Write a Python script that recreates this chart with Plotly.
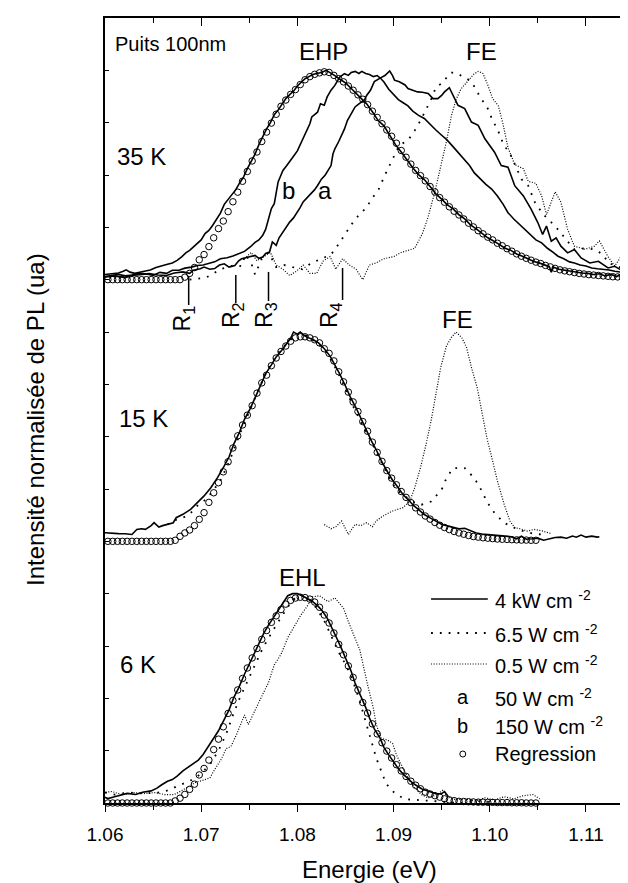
import plotly.graph_objects as go

# ---------------- data (energies in eV, intensities normalised per panel) ----------------
PANEL_OFFSET_35K = 2.5
PANEL_OFFSET_15K = 1.25
PANEL_OFFSET_6K = 0.0

# Regression (open circles): regular energy grid, start + step
FIT_E0 = 1.0598
FIT_DE = 0.0005
FIT_35K = [0, 0, 0, 0, 0, 0, 0, 0, 0, 0, 0, 0, 0, 0, 0, 0, 0,
           0.012, 0.03, 0.058, 0.095, 0.12, 0.158, 0.2, 0.244, 0.28, 0.325, 0.372, 0.418, 0.47,
           0.517, 0.567, 0.61, 0.66, 0.705, 0.748, 0.79, 0.828, 0.858, 0.885, 0.908, 0.932,
           0.955, 0.97, 0.981, 0.988, 0.993, 0.99, 0.976, 0.96, 0.945, 0.925, 0.905, 0.883,
           0.862, 0.836, 0.805, 0.775, 0.745, 0.715, 0.685, 0.652, 0.617, 0.585, 0.552, 0.522,
           0.497, 0.472, 0.445, 0.419, 0.392, 0.37, 0.348, 0.327, 0.309, 0.29, 0.27, 0.252,
           0.234, 0.219, 0.203, 0.19, 0.174, 0.162, 0.148, 0.136, 0.123, 0.112, 0.102, 0.093,
           0.084, 0.077, 0.068, 0.061, 0.054, 0.047, 0.042, 0.038, 0.034, 0.03, 0.027, 0.024,
           0.022, 0.02, 0.018, 0.016, 0.014, 0.013, 0.012, 0.011, 0.01]
FIT_15K = [0, 0, 0, 0, 0, 0, 0, 0, 0, 0, 0, 0, 0, 0, 0,
           0.005, 0.024, 0.04, 0.054, 0.075, 0.105, 0.137, 0.186, 0.232, 0.28, 0.332, 0.38,
           0.446, 0.504, 0.556, 0.603, 0.648, 0.708, 0.757, 0.794, 0.839, 0.876, 0.907, 0.933,
           0.956, 0.972, 0.977, 0.977, 0.972, 0.963, 0.948, 0.92, 0.898, 0.862, 0.81, 0.762,
           0.713, 0.666, 0.62, 0.572, 0.526, 0.474, 0.425, 0.382, 0.338, 0.302, 0.27, 0.238,
           0.21, 0.185, 0.16, 0.14, 0.121, 0.106, 0.09, 0.077, 0.066, 0.056, 0.047, 0.04,
           0.034, 0.028, 0.023, 0.02, 0.017, 0.015, 0.013, 0.011, 0.01, 0.009, 0.008, 0.007,
           0.006, 0.006, 0.005, 0.005]
FIT_6K = [0, 0, 0, 0, 0, 0, 0, 0, 0, 0, 0, 0, 0, 0, 0,
          0.01, 0.023, 0.041, 0.065, 0.09, 0.134, 0.165, 0.205, 0.255, 0.305, 0.364, 0.428,
          0.49, 0.54, 0.595, 0.645, 0.693, 0.738, 0.782, 0.824, 0.863, 0.894, 0.924, 0.95,
          0.968, 0.979, 0.983, 0.981, 0.974, 0.96, 0.935, 0.898, 0.86, 0.812, 0.758, 0.708,
          0.655, 0.6, 0.54, 0.48, 0.43, 0.378, 0.33, 0.288, 0.248, 0.215, 0.183, 0.153, 0.127,
          0.104, 0.085, 0.068, 0.052, 0.043, 0.035, 0.028, 0.02, 0.015, 0.011, 0.008, 0.007,
          0.006, 0.005, 0.004, 0.004, 0.003, 0.003, 0.002, 0.002, 0.002, 0.001, 0.001, 0.001,
          0, 0, 0]

# 35 K spectra (E, I)
S35_4KW = [(1.0600, 0.025), (1.0607, 0.03), (1.0614, 0.032), (1.0619, 0.04), (1.0622, 0.047),
           (1.0626, 0.036), (1.0631, 0.03), (1.0636, 0.035), (1.0642, 0.04), (1.0647, 0.046),
           (1.0653, 0.058), (1.0658, 0.066), (1.0664, 0.072), (1.0670, 0.08), (1.0675, 0.092),
           (1.0680, 0.11), (1.0684, 0.128), (1.0688, 0.14), (1.0692, 0.156), (1.0696, 0.17),
           (1.0700, 0.19), (1.0704, 0.22), (1.0708, 0.235), (1.0712, 0.26), (1.0716, 0.29),
           (1.0720, 0.318), (1.0724, 0.36), (1.0728, 0.382), (1.0732, 0.405), (1.0736, 0.43),
           (1.0740, 0.462), (1.0744, 0.49), (1.0748, 0.53), (1.0752, 0.565), (1.0756, 0.6),
           (1.0760, 0.645), (1.0764, 0.685), (1.0768, 0.72), (1.0772, 0.75), (1.0776, 0.788),
           (1.0780, 0.81), (1.0784, 0.835), (1.0788, 0.865), (1.0792, 0.884), (1.0796, 0.9),
           (1.0800, 0.925), (1.0804, 0.945), (1.0808, 0.96), (1.0812, 0.97), (1.0816, 0.98),
           (1.0820, 0.985), (1.0825, 0.99), (1.0830, 1.0), (1.0834, 0.99), (1.0839, 0.975),
           (1.0845, 0.955), (1.0850, 0.94), (1.0855, 0.918), (1.0860, 0.895), (1.0866, 0.868),
           (1.0872, 0.84), (1.0878, 0.802), (1.0884, 0.76), (1.0890, 0.735), (1.0896, 0.69),
           (1.0902, 0.645), (1.0908, 0.61), (1.0914, 0.57), (1.0920, 0.535), (1.0926, 0.502),
           (1.0932, 0.478), (1.0938, 0.445), (1.0944, 0.41), (1.0950, 0.385), (1.0956, 0.357),
           (1.0962, 0.338), (1.0968, 0.31), (1.0974, 0.29), (1.0980, 0.262), (1.0986, 0.243),
           (1.0992, 0.222), (1.0998, 0.2), (1.1004, 0.185), (1.1010, 0.168), (1.1016, 0.15),
           (1.1022, 0.14), (1.1028, 0.123), (1.1034, 0.112), (1.1040, 0.1), (1.1046, 0.087),
           (1.1052, 0.079), (1.1058, 0.068), (1.1062, 0.062), (1.1064, 0.035), (1.1066, 0.06),
           (1.1072, 0.05), (1.1078, 0.045), (1.1084, 0.04), (1.1090, 0.035), (1.1096, 0.032),
           (1.1102, 0.03), (1.1108, 0.025), (1.1114, 0.028), (1.1120, 0.018), (1.1126, 0.025),
           (1.1132, 0.015), (1.1138, 0.03), (1.1144, 0.012), (1.1150, 0.015)]
S35_150W = [(1.0600, 0.015), (1.0608, 0.02), (1.0614, 0.025), (1.0621, 0.018), (1.0628, 0.022),
            (1.0635, 0.03), (1.0642, 0.028), (1.0650, 0.02), (1.0657, 0.035), (1.0664, 0.03),
            (1.0670, 0.045), (1.0677, 0.045), (1.0683, 0.055), (1.0690, 0.06), (1.0696, 0.068),
            (1.0702, 0.07), (1.0708, 0.078), (1.0714, 0.085), (1.0720, 0.1), (1.0727, 0.105),
            (1.0733, 0.113), (1.0739, 0.125), (1.0745, 0.135), (1.0751, 0.156), (1.0756, 0.178),
            (1.0760, 0.19), (1.0764, 0.212), (1.0767, 0.24), (1.0769, 0.275), (1.0771, 0.3),
            (1.0773, 0.34), (1.0776, 0.363), (1.0778, 0.42), (1.0780, 0.467), (1.0783, 0.5),
            (1.0785, 0.522), (1.0789, 0.545), (1.0792, 0.562), (1.0796, 0.59), (1.0800, 0.615),
            (1.0803, 0.645), (1.0805, 0.666), (1.0808, 0.69), (1.0810, 0.713), (1.0813, 0.745),
            (1.0815, 0.777), (1.0818, 0.79), (1.0821, 0.8), (1.0824, 0.84), (1.0828, 0.833),
            (1.0831, 0.873), (1.0835, 0.905), (1.0839, 0.928), (1.0844, 0.968), (1.0849, 0.984),
            (1.0853, 0.976), (1.0856, 0.99), (1.0860, 0.995), (1.0864, 0.985), (1.0867, 0.995),
            (1.0871, 0.985), (1.0875, 0.98), (1.0879, 0.97), (1.0883, 0.975), (1.0887, 0.96),
            (1.0890, 0.944), (1.0895, 0.91), (1.0900, 0.885), (1.0905, 0.86), (1.0910, 0.845),
            (1.0915, 0.83), (1.0920, 0.805), (1.0926, 0.785), (1.0932, 0.77), (1.0938, 0.74),
            (1.0944, 0.715), (1.0950, 0.69), (1.0955, 0.67), (1.0960, 0.645), (1.0967, 0.61),
            (1.0973, 0.575), (1.0979, 0.545), (1.0984, 0.51), (1.0990, 0.48), (1.0996, 0.455),
            (1.1002, 0.433), (1.1008, 0.4), (1.1014, 0.36), (1.1019, 0.32), (1.1025, 0.29),
            (1.1031, 0.265), (1.1036, 0.24), (1.1042, 0.215), (1.1048, 0.19), (1.1054, 0.176),
            (1.1060, 0.15), (1.1066, 0.13), (1.1071, 0.112), (1.1077, 0.1), (1.1083, 0.085),
            (1.1088, 0.08), (1.1094, 0.07), (1.1100, 0.065), (1.1106, 0.056), (1.1112, 0.052),
            (1.1118, 0.05), (1.1124, 0.046), (1.1130, 0.04), (1.1136, 0.035), (1.1142, 0.032),
            (1.1150, 0.03)]
S35_50W = [(1.0600, 0.013), (1.0610, 0.018), (1.0621, 0.01), (1.0628, 0.02), (1.0636, 0.024),
           (1.0646, 0.029), (1.0655, 0.022), (1.0664, 0.02), (1.0672, 0.032), (1.0681, 0.037),
           (1.0688, 0.03), (1.0692, 0.045), (1.0699, 0.052), (1.0703, 0.06), (1.0709, 0.05),
           (1.0714, 0.053), (1.0719, 0.07), (1.0724, 0.076), (1.0729, 0.06), (1.0735, 0.068),
           (1.0739, 0.09), (1.0742, 0.1), (1.0746, 0.105), (1.0749, 0.108), (1.0753, 0.11),
           (1.0756, 0.116), (1.0760, 0.102), (1.0764, 0.108), (1.0767, 0.125), (1.0771, 0.132),
           (1.0774, 0.18), (1.0778, 0.164), (1.0781, 0.2), (1.0785, 0.228), (1.0789, 0.25),
           (1.0792, 0.275), (1.0796, 0.295), (1.0799, 0.315), (1.0803, 0.345), (1.0806, 0.371),
           (1.0810, 0.39), (1.0814, 0.41), (1.0818, 0.43), (1.0821, 0.45), (1.0825, 0.48),
           (1.0829, 0.5), (1.0833, 0.53), (1.0835, 0.545), (1.0837, 0.6), (1.0839, 0.625),
           (1.0843, 0.66), (1.0846, 0.69), (1.0849, 0.72), (1.0852, 0.76), (1.0856, 0.79),
           (1.0860, 0.825), (1.0864, 0.84), (1.0867, 0.85), (1.0870, 0.86), (1.0872, 0.88),
           (1.0876, 0.905), (1.0880, 0.946), (1.0884, 0.955), (1.0887, 0.965), (1.0891, 0.975),
           (1.0896, 0.997), (1.0899, 0.975), (1.0901, 0.953), (1.0906, 0.945), (1.0912, 0.93),
           (1.0915, 0.913), (1.0920, 0.905), (1.0925, 0.897), (1.0930, 0.895), (1.0936, 0.889),
           (1.0941, 0.865), (1.0946, 0.865), (1.0950, 0.88), (1.0953, 0.897), (1.0958, 0.917),
           (1.0964, 0.865), (1.0967, 0.833), (1.0974, 0.817), (1.0981, 0.753), (1.0988, 0.737),
           (1.0995, 0.673), (1.1005, 0.609), (1.1012, 0.545), (1.1019, 0.537), (1.1026, 0.449),
           (1.1035, 0.4), (1.1043, 0.337), (1.1050, 0.273), (1.1055, 0.216), (1.1059, 0.256),
           (1.1064, 0.184), (1.1069, 0.2), (1.1074, 0.16), (1.1081, 0.128), (1.1088, 0.144),
           (1.1095, 0.104), (1.1104, 0.08), (1.1113, 0.088), (1.1123, 0.056), (1.1130, 0.064),
           (1.1139, 0.04), (1.1150, 0.035)]
S35_6W5 = [(1.0688, 0.0), (1.0697, 0.005), (1.0705, 0.01), (1.0713, 0.03), (1.0720, 0.05),
           (1.0728, 0.06), (1.0735, 0.07), (1.0742, 0.064), (1.0746, 0.12), (1.0752, 0.08),
           (1.0756, 0.024), (1.0763, 0.1), (1.0770, 0.13), (1.0778, 0.06), (1.0786, 0.07),
           (1.0795, 0.06), (1.0805, 0.05), (1.0815, 0.08), (1.0825, 0.1), (1.0835, 0.12),
           (1.0842, 0.164), (1.0850, 0.22), (1.0858, 0.275), (1.0866, 0.32), (1.0871, 0.339),
           (1.0878, 0.39), (1.0885, 0.435), (1.0890, 0.49), (1.0896, 0.546), (1.0902, 0.6),
           (1.0906, 0.642), (1.0915, 0.666), (1.0922, 0.713), (1.0928, 0.76), (1.0934, 0.817),
           (1.0940, 0.87), (1.0944, 0.92), (1.0950, 0.937), (1.0956, 0.97), (1.0960, 0.99),
           (1.0966, 0.985), (1.0972, 0.97), (1.0978, 0.955), (1.0983, 0.93), (1.0990, 0.873),
           (1.0998, 0.817), (1.1003, 0.76), (1.1008, 0.72), (1.1014, 0.649), (1.1022, 0.593),
           (1.1033, 0.48), (1.1040, 0.449), (1.1047, 0.369), (1.1056, 0.31), (1.1068, 0.256),
           (1.1078, 0.2), (1.1088, 0.144), (1.1100, 0.15), (1.1109, 0.144), (1.1118, 0.12),
           (1.1123, 0.08), (1.1135, 0.06), (1.1150, 0.05)]
S35_0W5 = [(1.0745, 0.10), (1.0752, 0.13), (1.0758, 0.09), (1.0765, 0.11), (1.0772, 0.13),
           (1.0778, 0.07), (1.0785, 0.05), (1.0792, 0.02), (1.0799, 0.04), (1.0806, 0.07),
           (1.0813, 0.03), (1.0820, 0.03), (1.0827, 0.09), (1.0834, 0.11), (1.0840, 0.05),
           (1.0847, 0.10), (1.0854, 0.07), (1.0861, 0.05), (1.0868, 0.0), (1.0875, 0.07),
           (1.0882, 0.08), (1.0890, 0.10), (1.0900, 0.11), (1.0908, 0.13), (1.0915, 0.14),
           (1.0922, 0.15), (1.0930, 0.22), (1.0936, 0.30), (1.0943, 0.42), (1.0950, 0.56),
           (1.0955, 0.66), (1.0960, 0.78), (1.0965, 0.86), (1.0970, 0.91), (1.0977, 0.95),
           (1.0983, 0.98), (1.0988, 0.995), (1.0993, 0.985), (1.0998, 0.93), (1.1003, 0.865),
           (1.1009, 0.83), (1.1014, 0.74), (1.1019, 0.63), (1.1026, 0.55), (1.1035, 0.53),
           (1.1040, 0.47), (1.1048, 0.46), (1.1054, 0.40), (1.1059, 0.31), (1.1068, 0.42),
           (1.1074, 0.37), (1.1081, 0.24), (1.1088, 0.16), (1.1099, 0.145), (1.1109, 0.16),
           (1.1114, 0.185), (1.1123, 0.11), (1.1130, 0.065), (1.1140, 0.135), (1.1150, 0.08)]

# 15 K spectra
S15_4KW = [(1.0600, 0.041), (1.0607, 0.038), (1.0614, 0.037), (1.0621, 0.036), (1.0628, 0.033),
           (1.0633, 0.057), (1.0638, 0.06), (1.0642, 0.057), (1.0648, 0.075), (1.0651, 0.089),
           (1.0656, 0.068), (1.0660, 0.075), (1.0664, 0.081), (1.0671, 0.089), (1.0674, 0.113),
           (1.0681, 0.129), (1.0689, 0.153), (1.0696, 0.185), (1.0703, 0.217), (1.0710, 0.256),
           (1.0717, 0.304), (1.0724, 0.36), (1.0729, 0.404), (1.0734, 0.466), (1.0740, 0.523),
           (1.0745, 0.583), (1.0751, 0.634), (1.0756, 0.685), (1.0762, 0.75), (1.0767, 0.8),
           (1.0773, 0.843), (1.0778, 0.881), (1.0784, 0.914), (1.0789, 0.942), (1.0793, 0.97),
           (1.0796, 1.0), (1.0800, 0.99), (1.0803, 1.0), (1.0808, 0.98), (1.0812, 0.972),
           (1.0817, 0.962), (1.0822, 0.948), (1.0828, 0.92), (1.0834, 0.885), (1.0839, 0.843),
           (1.0844, 0.8), (1.0850, 0.742), (1.0855, 0.69), (1.0861, 0.638), (1.0866, 0.588),
           (1.0872, 0.535), (1.0877, 0.48), (1.0883, 0.428), (1.0888, 0.378), (1.0894, 0.33),
           (1.0899, 0.292), (1.0905, 0.256), (1.0910, 0.222), (1.0916, 0.195), (1.0921, 0.17),
           (1.0927, 0.148), (1.0932, 0.128), (1.0938, 0.112), (1.0944, 0.095), (1.0950, 0.082),
           (1.0955, 0.075), (1.0962, 0.066), (1.0968, 0.06), (1.0974, 0.062), (1.0980, 0.05),
           (1.0986, 0.04), (1.0992, 0.035), (1.0998, 0.033), (1.1004, 0.03), (1.1010, 0.03),
           (1.1016, 0.025), (1.1022, 0.022), (1.1028, 0.012), (1.1033, 0.025), (1.1038, 0.01),
           (1.1044, 0.012), (1.1050, 0.015), (1.1056, 0.005), (1.1062, 0.012), (1.1068, 0.018),
           (1.1074, 0.02), (1.1080, 0.015), (1.1086, 0.025), (1.1090, 0.02), (1.1095, 0.03),
           (1.1100, 0.02), (1.1106, 0.025), (1.1112, 0.02), (1.1114, 0.022)]
S15_6W5 = [(1.0665, 0.08), (1.0672, 0.1), (1.0680, 0.11), (1.0688, 0.13), (1.0697, 0.175),
           (1.0705, 0.2), (1.0712, 0.24), (1.0720, 0.29), (1.0730, 0.39), (1.0740, 0.51),
           (1.0750, 0.62), (1.0760, 0.73), (1.0770, 0.83), (1.0780, 0.9), (1.0790, 0.95),
           (1.0798, 0.985), (1.0805, 0.995), (1.0812, 0.975), (1.0820, 0.95), (1.0828, 0.915),
           (1.0836, 0.86), (1.0844, 0.79), (1.0852, 0.71), (1.0860, 0.625), (1.0868, 0.555),
           (1.0876, 0.485), (1.0884, 0.41), (1.0892, 0.335), (1.0898, 0.28), (1.0905, 0.24),
           (1.0915, 0.205), (1.0922, 0.185), (1.0929, 0.175), (1.0939, 0.19), (1.0950, 0.247),
           (1.0955, 0.302), (1.0962, 0.35), (1.0974, 0.35), (1.0984, 0.302), (1.0991, 0.247),
           (1.0997, 0.19), (1.1005, 0.135), (1.1015, 0.088), (1.1026, 0.064), (1.1037, 0.045),
           (1.1047, 0.035), (1.1057, 0.032)]
S15_0W5 = [(1.0828, 0.08), (1.0835, 0.06), (1.0840, 0.07), (1.0846, 0.097), (1.0853, 0.033),
           (1.0860, 0.081), (1.0866, 0.075), (1.0872, 0.089), (1.0878, 0.07), (1.0882, 0.098),
           (1.0889, 0.121), (1.0899, 0.145), (1.0910, 0.161), (1.0917, 0.193), (1.0922, 0.256),
           (1.0928, 0.352), (1.0933, 0.447), (1.0939, 0.575), (1.0944, 0.702), (1.0949, 0.83),
           (1.0955, 0.933), (1.0960, 0.973), (1.0965, 1.0), (1.0971, 0.973), (1.0976, 0.925),
           (1.0981, 0.83), (1.0987, 0.734), (1.0992, 0.607), (1.0997, 0.495), (1.1003, 0.384),
           (1.1008, 0.288), (1.1015, 0.177), (1.1021, 0.097), (1.1026, 0.065), (1.1032, 0.06),
           (1.1039, 0.049), (1.1046, 0.057), (1.1055, 0.049), (1.1064, 0.037)]

# 6 K spectra
S6_4KW = [(1.0598, 0.03), (1.0603, 0.021), (1.0610, 0.03), (1.0617, 0.038), (1.0623, 0.046),
          (1.0632, 0.041), (1.0639, 0.051), (1.0648, 0.058), (1.0654, 0.071), (1.0659, 0.087),
          (1.0665, 0.104), (1.0670, 0.112), (1.0675, 0.128), (1.0681, 0.153), (1.0686, 0.169),
          (1.0692, 0.185), (1.0697, 0.205), (1.0702, 0.232), (1.0708, 0.275), (1.0713, 0.31),
          (1.0718, 0.345), (1.0724, 0.4), (1.0729, 0.445), (1.0734, 0.505), (1.0739, 0.55),
          (1.0745, 0.615), (1.0750, 0.665), (1.0755, 0.715), (1.0760, 0.765), (1.0765, 0.81),
          (1.0770, 0.85), (1.0775, 0.885), (1.0780, 0.92), (1.0785, 0.955), (1.0790, 0.99),
          (1.0795, 1.0), (1.0800, 1.0), (1.0805, 0.99), (1.0810, 0.978), (1.0815, 0.965),
          (1.0821, 0.943), (1.0826, 0.917), (1.0831, 0.883), (1.0836, 0.838), (1.0841, 0.787),
          (1.0846, 0.736), (1.0851, 0.684), (1.0856, 0.628), (1.0860, 0.573), (1.0866, 0.514),
          (1.0871, 0.457), (1.0875, 0.406), (1.0880, 0.354), (1.0886, 0.31), (1.0890, 0.266),
          (1.0895, 0.23), (1.0900, 0.194), (1.0905, 0.164), (1.0910, 0.138), (1.0915, 0.115),
          (1.0920, 0.095), (1.0925, 0.08), (1.0930, 0.066), (1.0935, 0.058), (1.0940, 0.05),
          (1.0945, 0.043), (1.0950, 0.045), (1.0953, 0.055), (1.0957, 0.03)]
S6_6W5 = [(1.0600, 0.05), (1.0610, 0.04), (1.0625, 0.05), (1.0640, 0.045), (1.0655, 0.05),
          (1.0665, 0.06), (1.0680, 0.09), (1.0690, 0.11), (1.0700, 0.14), (1.0710, 0.19),
          (1.0718, 0.25), (1.0726, 0.33), (1.0733, 0.42), (1.0740, 0.5), (1.0752, 0.62),
          (1.0764, 0.74), (1.0778, 0.85), (1.0785, 0.9), (1.0792, 0.95), (1.0798, 0.98),
          (1.0805, 0.99), (1.0812, 0.975), (1.0820, 0.93), (1.0828, 0.87), (1.0835, 0.8),
          (1.0843, 0.72), (1.0851, 0.655), (1.0858, 0.58), (1.0864, 0.5), (1.0870, 0.41),
          (1.0876, 0.31), (1.0882, 0.215), (1.0887, 0.15), (1.0892, 0.095), (1.0898, 0.06),
          (1.0905, 0.035), (1.0913, 0.018), (1.0925, 0.015), (1.0940, 0.01), (1.0955, 0.005),
          (1.0969, 0.0), (1.0985, 0.01), (1.1000, 0.005)]
S6_0W5 = [(1.0598, 0.05), (1.0607, 0.055), (1.0618, 0.04), (1.0630, 0.05), (1.0640, 0.045),
          (1.0652, 0.05), (1.0662, 0.04), (1.0672, 0.04), (1.0680, 0.06), (1.0688, 0.08),
          (1.0695, 0.1), (1.0703, 0.11), (1.0709, 0.12), (1.0714, 0.16), (1.0721, 0.21),
          (1.0726, 0.26), (1.0731, 0.27), (1.0737, 0.33), (1.0742, 0.39), (1.0745, 0.42),
          (1.0749, 0.375), (1.0756, 0.445), (1.0763, 0.51), (1.0770, 0.575), (1.0776, 0.66),
          (1.0783, 0.71), (1.0790, 0.79), (1.0797, 0.845), (1.0804, 0.9), (1.0811, 0.945),
          (1.0816, 0.985), (1.0823, 0.99), (1.0832, 0.962), (1.0839, 0.98), (1.0848, 0.93),
          (1.0853, 0.867), (1.0860, 0.787), (1.0865, 0.73), (1.0873, 0.565), (1.0879, 0.453),
          (1.0882, 0.375), (1.0887, 0.31), (1.0894, 0.3), (1.0899, 0.285), (1.0903, 0.23),
          (1.0908, 0.183), (1.0915, 0.119), (1.0922, 0.072), (1.0929, 0.04), (1.0936, 0.024),
          (1.0945, 0.04), (1.0951, 0.06), (1.0956, 0.03), (1.0965, 0.015), (1.0975, 0.02),
          (1.0985, 0.01), (1.0995, 0.025), (1.1005, 0.015), (1.1015, 0.03), (1.1025, 0.02),
          (1.1035, 0.035), (1.1045, 0.04), (1.1052, 0.02)]

X_TICKS = [1.06, 1.07, 1.08, 1.09, 1.10, 1.11]
X_MINOR = [1.065, 1.075, 1.085, 1.095, 1.105]
Y_TICKS = [0.25 * k for k in range(1, 15)]

LEGEND_ROWS = ["4 kW cm <sup>-2</sup>", "6.5 W cm <sup>-2</sup>", "0.5 W cm <sup>-2</sup>",
               "50 W cm <sup>-2</sup>", "150 W cm <sup>-2</sup>", "Regression"]

# ---------------- figure ----------------
FONT = "Liberation Sans, Arial, Helvetica, sans-serif"
SOLID = dict(color="black", width=1.6)
DASH65 = dict(color="black", width=1.8, dash="1.8px,7px")
DOT05 = dict(color="black", width=1.2, dash="1px,1.6px")

fig = go.Figure()


def add_line(pairs, offset, style):
    xs = [p[0] for p in pairs]
    ys = [p[1] + offset for p in pairs]
    fig.add_trace(go.Scatter(x=xs, y=ys, mode="lines", line=style,
                             showlegend=False, hoverinfo="skip"))


def add_fit(values, offset):
    xs = [FIT_E0 + FIT_DE * i for i in range(len(values))]
    ys = [v + offset for v in values]
    fig.add_trace(go.Scatter(x=xs, y=ys, mode="markers", cliponaxis=False,
                             marker=dict(symbol="circle-open", size=6.5, color="black",
                                         line=dict(width=1, color="black")),
                             showlegend=False, hoverinfo="skip"))


for values, off in [(FIT_35K, PANEL_OFFSET_35K), (FIT_15K, PANEL_OFFSET_15K), (FIT_6K, PANEL_OFFSET_6K)]:
    add_fit(values, off)

add_line(S35_4KW, PANEL_OFFSET_35K, SOLID)
add_line(S35_150W, PANEL_OFFSET_35K, SOLID)
add_line(S35_50W, PANEL_OFFSET_35K, SOLID)
add_line(S35_6W5, PANEL_OFFSET_35K, DASH65)
add_line(S35_0W5, PANEL_OFFSET_35K, DOT05)

add_line(S15_4KW, PANEL_OFFSET_15K, SOLID)
add_line(S15_6W5, PANEL_OFFSET_15K, DASH65)
add_line(S15_0W5, PANEL_OFFSET_15K, DOT05)

add_line(S6_4KW, PANEL_OFFSET_6K, SOLID)
add_line(S6_6W5, PANEL_OFFSET_6K, DASH65)
add_line(S6_0W5, PANEL_OFFSET_6K, DOT05)

# dummy trace so that the mirrored (top/right) axes are drawn
fig.add_trace(go.Scatter(x=[None], y=[None], xaxis="x2", yaxis="y2", mode="lines",
                         showlegend=False, hoverinfo="skip"))

X_RANGE = [1.06, 1.115]
Y_RANGE = [0, 3.75]
AX_COMMON = dict(showgrid=False, zeroline=False, showline=True, linecolor="black",
                 linewidth=1.5, tickcolor="black", tickwidth=1.3)

fig.update_layout(
    width=628, height=883,
    margin=dict(l=97, r=2, t=10, b=88),
    paper_bgcolor="white", plot_bgcolor="white",
    font=dict(family=FONT, color="black", size=19),
    showlegend=False,
    xaxis=dict(range=X_RANGE, tickmode="array", tickvals=X_TICKS,
               ticktext=["%.2f" % v for v in X_TICKS], ticks="outside", ticklen=7,
               ticklabelstandoff=6,
               minor=dict(tickmode="array", tickvals=X_MINOR, ticks="outside", ticklen=5,
                          tickcolor="black", tickwidth=1.3),
               tickfont=dict(size=19, family=FONT), **AX_COMMON),
    xaxis2=dict(range=X_RANGE, overlaying="x", side="top", matches="x", tickmode="array",
                tickvals=X_TICKS, ticks="inside", ticklen=8, showticklabels=False,
                minor=dict(tickmode="array", tickvals=X_MINOR, ticks="inside", ticklen=5,
                           tickcolor="black", tickwidth=1.3),
                **AX_COMMON),
    yaxis=dict(range=Y_RANGE, tickmode="array", tickvals=Y_TICKS, ticks="inside", ticklen=4,
               showticklabels=False, **AX_COMMON),
    yaxis2=dict(range=Y_RANGE, overlaying="y", side="right", matches="y", tickmode="array",
                tickvals=Y_TICKS, ticks="inside", ticklen=4, showticklabels=False, **AX_COMMON),
)

annots = []


def txt(x, y, s, size=24, xanchor="center", yanchor="middle", angle=0, xref="x", yref="y"):
    annots.append(dict(x=x, y=y, xref=xref, yref=yref, text=s, showarrow=False,
                       xanchor=xanchor, yanchor=yanchor, textangle=angle,
                       font=dict(size=size, family=FONT, color="black")))


txt(1.0608, 3.628, "Puits 100nm", size=20, xanchor="left")
txt(1.0827, 3.59, "EHP")
txt(1.0991, 3.59, "FE")
txt(1.0610, 3.087, "35 K", xanchor="left")
txt(1.0791, 2.925, "b")
txt(1.0829, 2.925, "a")
txt(1.0967, 2.31, "FE")
txt(1.0612, 1.839, "15 K", xanchor="left")
txt(1.0805, 1.075, "EHL")
txt(1.0614, 0.661, "6 K", xanchor="left")

# R markers
R_MARKS = [(1.0687, 2.5175, 2.379, 1.06821, 2.3145, "R<sub>1</sub>"),
           (1.0736, 2.522, 2.389, 1.07326, 2.329, "R<sub>2</sub>"),
           (1.0770, 2.537, 2.398, 1.07669, 2.329, "R<sub>3</sub>"),
           (1.0847, 2.556, 2.403, 1.08345, 2.329, "R<sub>4</sub>")]
shapes = []
for xe, y0, y1, tx, ty, lab in R_MARKS:
    shapes.append(dict(type="line", xref="x", yref="y", x0=xe, x1=xe, y0=y0, y1=y1,
                       line=dict(color="black", width=1.5)))
    txt(tx, ty, lab, size=23, angle=-90)

# legend (drawn by hand)
LEG_Y = [0.9745, 0.812, 0.664, 0.506, 0.368, 0.234]
LEG_X0, LEG_X1, LEG_TX, LEG_SYM = 1.0939, 1.0998, 1.1003, 1.0972
for yy, style in zip(LEG_Y[:3], [SOLID, DASH65, DOT05]):
    shapes.append(dict(type="line", xref="x", yref="y", x0=LEG_X0, x1=LEG_X1, y0=yy, y1=yy,
                       line=style))
for yy, lab in zip(LEG_Y, LEGEND_ROWS):
    txt(LEG_TX, yy, lab, size=20, xanchor="left")
txt(LEG_SYM, LEG_Y[3], "a", size=20)
txt(LEG_SYM, LEG_Y[4], "b", size=20)
shapes.append(dict(type="circle", xref="x", yref="y",
                   x0=LEG_SYM - 0.00031, x1=LEG_SYM + 0.00031,
                   y0=LEG_Y[5] - 0.0143, y1=LEG_Y[5] + 0.0143,
                   line=dict(color="black", width=1)))

# axis titles
txt(0.5, -0.085, "Energie (eV)", size=24, xref="paper", yref="paper")
txt(-0.1304, 0.488, "Intensité normalisée de PL (ua)", size=24, angle=-90,
    xref="paper", yref="paper")

fig.update_layout(annotations=annots, shapes=shapes)

fig.write_html("out.html")
